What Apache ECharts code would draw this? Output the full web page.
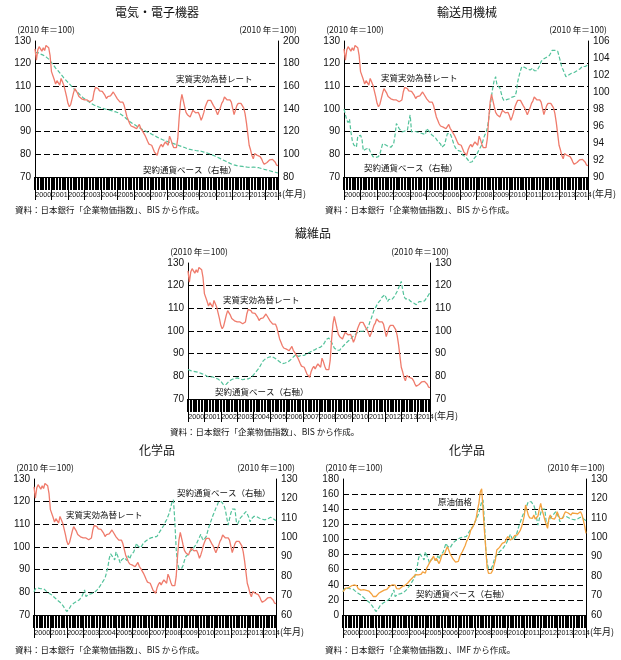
<!DOCTYPE html>
<html><head><meta charset="utf-8">
<script src="https://cdn.jsdelivr.net/npm/echarts@6/dist/echarts.min.js"></script>
<style>html,body{margin:0;padding:0;background:#fff}#c{width:621px;height:660px}</style>
</head><body><div id="c"></div>
<script>
// ---------------- data ----------------
const YEARS = ['2000','2001','2002','2003','2004','2005','2006','2007','2008','2009','2010','2011','2012','2013','2014'];
const N_MONTHS = 178; // 2000/1 - 2014/10

// 実質実効為替レート (2010=100), common to the four REER panels
const REER = [
 126.5,121.5,126,127.5,126.5,125.5,127,125.8,128,127.5,127,123.5,
 116.5,117,113,111,112.5,112.8,110.5,113.5,112,110.5,108,105.5,
 102.5,101,102,104.5,107,109,109,107,105.5,105,104.5,105,
 104,103.5,104,103.5,103.2,103,104,107.5,109.5,109.7,109,108,
 107.5,107.8,107,106,104.6,105.5,105.5,105.8,106.5,107.5,106.5,106.5,
 104.5,104,103,102.5,103,101.5,99,96.5,95,93.5,92.5,92,
 92,92.5,91.3,90.6,93.2,91.5,90.6,90,88.5,87.2,85.8,84.5,
 84,84,83.2,81,80.3,79.6,82,83.5,84.4,83.2,84.5,85.5,
 85,84,88,86.5,84.5,83,82.5,83,87,96,103,106.5,
 106,101,98.5,97.5,97,96.5,98,99.4,99.4,98.3,98.5,98.5,
 97,95,96.5,98.5,101,102.5,103.8,104.6,103.8,103,101.5,100.5,
 100,97.5,99,100.5,102.5,103.5,105.3,106,104,104.5,104,103,
 102.5,97.5,99.5,101.5,102.5,103,102.5,102,100.5,98,94,89,
 84,82,79.5,78,80.3,80,79.5,80,79,78,76.6,75.6,
 75.8,76.4,77,77.6,78,77.8,77.6,76.5,75.2,75
];
// 電気・電子機器 契約通貨ベース (右軸)
const ELEC = [
 190,189.5,189.8,189,188.5,188.2,187.5,187,186,185,184,182.5,
 181,179.5,177.8,176,174.8,173.5,172,170.5,169,167.5,166.2,164.8,
 163.5,162.2,160.8,159.5,158.2,157,156,154.8,153.5,152.2,151,150,
 149,148.2,147.3,146.5,145.6,144.8,144,143.5,143,142.5,142,141.5,
 141,140.7,140.3,140,139.6,139.3,139,138.8,138.5,138,137.8,137.4,
 137,136.5,135.8,135,134.2,133.2,132,131,130,129,128,127.2,
 126.5,125.8,125,124.2,123.5,122.8,122,121.4,120.8,120.2,119.6,119,
 118.5,117.8,117.2,116.5,115.8,115.2,114.5,114,113.4,112.9,112.4,112,
 111.5,111,110.6,110.2,109.8,109.4,109,108.6,108.2,107.7,107.3,106.9,
 106.5,106,105.5,105,104.6,104.3,104,103.8,103.6,103.4,103.2,103.1,
 103,102.7,102.4,102,101.7,101.3,101,100.5,100,99.5,99,98.5,
 98,97.4,96.8,96.2,95.6,95,94.5,93.9,93.3,92.7,92.1,91.5,
 91,90.7,90.4,90.1,89.8,89.6,89.5,89.3,89.1,89,88.8,88.6,
 88.5,88.4,88.6,88.8,88.6,88.5,88.5,88.2,87.9,87.5,87.2,86.8,
 86.5,86.2,85.8,85.5,85.2,84.8,84.5,84.2,83.8,83.5
];
// 輸送用機械 契約通貨ベース (右軸)
const TRANS = [
 98.0,98.1,96.7,96.4,96.8,95.3,94.3,93.8,93.6,93.5,94.8,95.0,
 94.9,94.5,93.1,92.9,93.3,93.5,93.4,93.0,92.7,92.4,92.3,92.3,
 92.2,92.4,92.7,93.3,93.9,93.7,93.8,93.7,93.6,93.6,93.5,93.6,
 93.9,94.9,96.3,96.1,95.7,95.5,95.3,95.5,95.4,95.6,95.5,96.5,
 97.3,95.3,95.4,95.4,95.3,95.3,95.2,95.2,95.1,95.1,94.9,95.0,
 95.7,95.5,95.3,95.2,94.9,95.0,94.7,94.8,94.2,94.0,93.9,93.5,
 93.5,93.8,94.5,95.1,95.3,95.1,94.7,94.2,93.7,93.4,93.2,93.1,
 93.1,93.0,92.6,92.4,92.4,92.5,92.0,91.7,91.5,91.8,92.1,92.2,
 92.5,92.9,93.2,93.4,93.8,94.4,94.9,95.2,95.8,96.8,98.2,99.5,
 100.6,101.4,101.8,100.8,100.9,100.5,99.9,99.3,99.0,98.8,99.1,99.3,
 99.2,99.4,99.4,99.5,99.5,100.0,101.2,101.9,102.5,103.0,103.1,102.9,
 102.8,102.7,102.6,102.6,102.4,102.8,102.5,102.7,102.5,102.5,103.1,103.6,
 103.7,103.9,104.0,104.1,103.9,104.3,104.5,104.9,104.8,104.9,104.8,104.8,
 104.8,103.6,102.9,102.6,102.2,101.8,101.9,102.0,102.1,102.2,102.2,102.3,
 102.4,102.5,102.4,102.7,102.5,103.0,102.9,103.0,103.1,103.2
];
// 繊維品 契約通貨ベース (右軸)
const TEXTILE = [
 83.0,82.8,82.5,82.3,82.2,82.3,82.0,81.8,81.7,81.5,81.2,80.9,
 80.7,80.4,80.0,79.9,79.7,79.8,79.8,79.5,79.2,79.0,78.8,78.6,
 77.8,77.2,76.2,75.6,76.5,77.3,77.8,78.2,78.6,78.8,79.0,79.2,
 79.3,79.1,78.9,78.7,78.5,78.6,78.8,78.7,78.9,79.2,79.4,80.2,
 80.7,81.5,82.2,82.9,83.7,84.8,85.9,86.8,87.6,87.9,88.1,88.4,
 88.1,88.8,88.6,88.2,87.7,87.4,86.9,86.4,86.0,85.6,85.5,85.9,
 85.6,86.3,86.8,87.3,87.9,88.5,89.1,89.6,89.3,88.8,88.9,89.3,
 88.9,89.2,89.6,90.0,90.3,90.6,91.0,91.3,91.6,91.8,92.1,92.5,
 92.5,92.9,93.5,94.0,95.0,96.2,96.8,96.9,96.2,95.0,93.8,92.5,
 91.8,91.5,91.3,91.6,92.2,93.0,93.6,94.3,94.8,95.5,96.2,96.4,
 97.3,97.6,98.3,99.1,99.3,99.9,99.9,100.2,99.9,100.3,100.6,101.4,
 102.0,104.0,105.5,107.2,109.0,110.1,111.3,112.4,113.0,113.8,115.0,114.6,
 116.0,114.5,113.0,114.0,114.5,113.8,114.5,115.3,116.0,117.5,119.0,118.4,
 121.9,118.2,115.3,114.2,113.8,114.2,114.5,113.0,112.6,112.4,111.8,111.6,
 112.3,113.0,112.4,113.0,113.0,113.3,113.8,115.0,116.0,116.8
];
// 化学品 契約通貨ベース (右軸)
const CHEM = [
 72,73.5,74.5,73.8,73.2,73.5,73.7,73.5,73,72.3,71.8,71.2,
 70.8,70.3,69.6,69,68.3,67.7,67.2,66.6,66,65,63.9,62.9,
 61.8,61.2,63.5,64.8,65.5,66,66.4,66.9,67.2,67.7,68.2,69.5,
 70.3,72.9,69.5,70,70.6,70.8,71,71.2,71.5,72,72.8,73.8,
 74.6,75.7,76.8,77.8,79,79.7,84.5,89,91.5,91,89.5,88.3,
 92.5,92,89,86.8,88.3,87.5,89.5,89.5,88,90.5,88.8,90.8,
 91.5,92.5,94.7,96.9,95.5,94.5,94.5,95.5,97,97.5,98.2,98.8,
 99.2,99.5,99.8,100.3,100.1,99.7,100.5,101.8,102.9,104,105,106.2,
 107.8,109,110.8,112.5,115.5,118.2,119.3,108.2,94,86.5,84,83.2,
 84,85.5,88,90,91,91.5,92.6,93,93.8,94.5,95.8,96.9,
 98.5,100,101.5,99.5,98.4,98.6,100.5,103,105.5,107.5,109.5,111.5,
 113,115,116.5,118.3,117.8,118.3,117.8,116.5,114,110,106.3,109.5,
 112.5,114.5,115,114.5,108,106.8,108.5,110,109.5,111.5,112.5,113.2,
 112,110.5,108,109.5,110.3,110.8,110.5,110.6,110.2,109.8,109.5,109.3,
 109.2,109,108.9,109.5,110.5,110.3,110,109.6,109.2,108.5
];
// 原油価格 (2010=100)
const OIL = [
 31,33.5,35.5,37.5,36,38,38.5,39,39.7,41,39,35,
 33.8,33,35.3,33.5,34,32.5,32.5,31.5,30.9,27.5,24.5,23.5,
 24.5,26,28.7,30.5,31,31.5,33,34.5,34,36.5,38,38.5,
 40,41.9,39.5,35,33,34.5,37,37.5,38.5,39,40.5,42,
 44,46.3,48,50,51.5,53.5,55.1,53,52,54,57,59.6,
 55.5,62,65.5,69,72,75,78,72,75,74.5,68,72.8,
 79.4,77,81,86,90.4,86,81,78,74.5,72,70,68.4,
 71,77,81,84,86,92,97.5,101,105,112,114,118,
 122.5,128,139,148,163,167,140,112,88,62,55,53,
 55.5,59,66,72.8,86,88,89.5,92,94.8,95,96.5,100.5,
 103.7,102,99.3,99.3,102,105,104,106,108,111.5,116,123,
 131,145.6,138.9,132,128.5,127.5,128,132.3,127,126.5,131,140,
 147.8,139,133,126,120,114.7,128,132.3,128,130,127,130,
 136.7,132,127.5,125.7,128,133,136.7,138,135,134,132.3,135,
 133,134.5,133.5,134,134.5,136.7,133,126,118,108
];

const MONTHS = [];
YEARS.forEach(y => { for (let m = 1; m <= 12; m++) if (MONTHS.length < N_MONTHS) MONTHS.push(y + '/' + m); });

// ---------------- styles / layout ----------------
const RED = '#ef7b6c', GREEN = '#52c29a', ORANGE = '#f4a23e';
const NUM_FONT = "'Liberation Sans', Arial, 'Noto Sans CJK JP', sans-serif";
const JP_FONT = "'Noto Sans CJK JP', 'Liberation Sans', sans-serif";
const UNIT = '(2010 年＝100)';

const PANELS = [
  { title: '電気・電子機器', tx: 157, ty: 12, grid: {left: 35, top: 41, width: 243, height: 136},
    L: {min: 70, max: 130, interval: 10}, R: {min: 80, max: 200, interval: 20},
    s1: {name: '実質実効為替レート', data: REER, color: RED},
    s2: {name: '契約通貨ベース（右軸）', data: ELEC, color: GREEN},
    labels: [['実質実効為替レート', 176, 79], ['契約通貨ベース（右軸）', 143, 170]],
    source: ['資料：日本銀行「企業物価指数」、BIS から作成。', 15, 210] },
  { title: '輸送用機械', tx: 467, ty: 12, grid: {left: 344, top: 41, width: 244, height: 136},
    L: {min: 70, max: 130, interval: 10}, R: {min: 90, max: 106, interval: 2},
    s1: {name: '実質実効為替レート', data: REER, color: RED},
    s2: {name: '契約通貨ベース（右軸）', data: TRANS, color: GREEN},
    labels: [['実質実効為替レート', 381, 78], ['契約通貨ベース（右軸）', 364, 168]],
    source: ['資料：日本銀行「企業物価指数」、BIS から作成。', 325, 210] },
  { title: '繊維品', tx: 313, ty: 233, grid: {left: 188, top: 263, width: 242, height: 136},
    L: {min: 70, max: 130, interval: 10}, R: {min: 70, max: 130, interval: 10},
    s1: {name: '実質実効為替レート', data: REER, color: RED},
    s2: {name: '契約通貨ベース（右軸）', data: TEXTILE, color: GREEN},
    labels: [['実質実効為替レート', 223, 300], ['契約通貨ベース（右軸）', 215, 392]],
    source: ['資料：日本銀行「企業物価指数」、BIS から作成。', 170, 432] },
  { title: '化学品', tx: 157, ty: 450, grid: {left: 34, top: 479, width: 242, height: 136},
    L: {min: 70, max: 130, interval: 10}, R: {min: 60, max: 130, interval: 10},
    s1: {name: '実質実効為替レート', data: REER, color: RED},
    s2: {name: '契約通貨ベース（右軸）', data: CHEM, color: GREEN},
    labels: [['契約通貨ベース（右軸）', 177, 493], ['実質実効為替レート', 66, 515]],
    source: ['資料：日本銀行「企業物価指数」、BIS から作成。', 15, 650] },
  { title: '化学品', tx: 467, ty: 450, grid: {left: 343, top: 479, width: 243, height: 136},
    L: {min: 0, max: 180, interval: 20}, R: {min: 60, max: 130, interval: 10},
    s1: {name: '原油価格', data: OIL, color: ORANGE},
    s2: {name: '契約通貨ベース（右軸）', data: CHEM, color: GREEN},
    labels: [['原油価格', 438, 502], ['契約通貨ベース（右軸）', 416, 594]],
    source: ['資料：日本銀行「企業物価指数」、IMF から作成。', 325, 650] }
];

const option = {
  animation: false, backgroundColor: '#fff',
  title: [], grid: [], xAxis: [], yAxis: [], series: [], graphic: []
};

PANELS.forEach((p, gi) => {
  option.title.push({ text: p.title, left: p.tx, top: p.ty, textAlign: 'center', textVerticalAlign: 'middle', padding: 0,
    textStyle: {fontSize: 12, fontWeight: 'normal', color: '#111', fontFamily: JP_FONT} });
  option.grid.push(Object.assign({outerBoundsMode: 'none', containLabel: false}, p.grid));
  // monthly tick band
  option.xAxis.push({ type: 'category', gridIndex: gi, data: MONTHS, boundaryGap: false, position: 'bottom',
    axisLine: {show: true, onZero: false, lineStyle: {color: '#000', width: 1}},
    axisTick: {show: true, interval: (i) => i % 2 === 0, length: 13, lineStyle: {color: '#000', width: 2}},
    axisLabel: {show: false}, splitLine: {show: false} });
  // year cells
  option.xAxis.push({ type: 'category', gridIndex: gi, data: MONTHS, boundaryGap: false, position: 'bottom',
    axisLine: {show: false, onZero: false},
    axisTick: {show: true, interval: (i) => i % 12 === 0 || i === N_MONTHS - 1, length: 23, lineStyle: {color: '#000', width: 1}},
    axisLabel: {show: true, interval: (i) => (i % 12 === 6 && i < 168) || i === 174,
      showMinLabel: true, showMaxLabel: true, hideOverlap: false,
      formatter: (v) => v.slice(0, 4), fontSize: 7.1, margin: 14, color: '#111', fontFamily: NUM_FONT},
    splitLine: {show: false},
    name: '(年月)', nameLocation: 'end', nameGap: 4, nameMoveOverlap: false,
    nameTextStyle: {fontSize: 9, color: '#111', fontFamily: JP_FONT, verticalAlign: 'top', padding: [12, 0, 0, 0]} });
  option.yAxis.push({ type: 'value', gridIndex: gi, position: 'left', min: p.L.min, max: p.L.max, interval: p.L.interval,
    name: UNIT, nameLocation: 'end', nameGap: 7,
    nameTextStyle: {fontSize: 8.5, color: '#111', fontFamily: JP_FONT, padding: [0, 0, 0, 22]},
    axisLine: {show: true, lineStyle: {color: '#000', width: 1}}, axisTick: {show: false},
    axisLabel: {fontSize: 10, color: '#111', margin: 4, fontFamily: NUM_FONT},
    splitLine: {show: true, showMinLine: false, showMaxLine: false, lineStyle: {color: '#000', width: 1, type: [6, 3]}} });
  option.yAxis.push({ type: 'value', gridIndex: gi, position: 'right', min: p.R.min, max: p.R.max, interval: p.R.interval,
    name: UNIT, nameLocation: 'end', nameGap: 7,
    nameTextStyle: {fontSize: 8.5, color: '#111', fontFamily: JP_FONT, padding: [0, 20, 0, 0]},
    axisLine: {show: true, lineStyle: {color: '#000', width: 1}}, axisTick: {show: false},
    axisLabel: {fontSize: 10, color: '#111', margin: 5, fontFamily: NUM_FONT},
    splitLine: {show: false} });
  option.series.push({ type: 'line', name: p.s2.name, xAxisIndex: gi * 2, yAxisIndex: gi * 2 + 1, data: p.s2.data,
    showSymbol: false, z: 2, lineStyle: {color: p.s2.color, width: 1.2, type: [4, 2]} });
  option.series.push({ type: 'line', name: p.s1.name, xAxisIndex: gi * 2, yAxisIndex: gi * 2, data: p.s1.data,
    showSymbol: false, z: 3, lineStyle: {color: p.s1.color, width: 1.3} });
  p.labels.forEach(([t, x, y]) => option.graphic.push({ type: 'text', x: x, y: y, z: 10,
    style: {text: t, fontSize: 8.5, fontFamily: JP_FONT, fill: '#111', align: 'left', verticalAlign: 'middle'} }));
  option.graphic.push({ type: 'text', x: p.source[1], y: p.source[2], z: 10,
    style: {text: p.source[0], fontSize: 8.5, fontFamily: JP_FONT, fill: '#111', align: 'left', verticalAlign: 'middle'} });
});

const chart = echarts.init(document.getElementById('c'), null, {renderer: 'canvas'});
chart.setOption(option);
</script>
</body></html>
